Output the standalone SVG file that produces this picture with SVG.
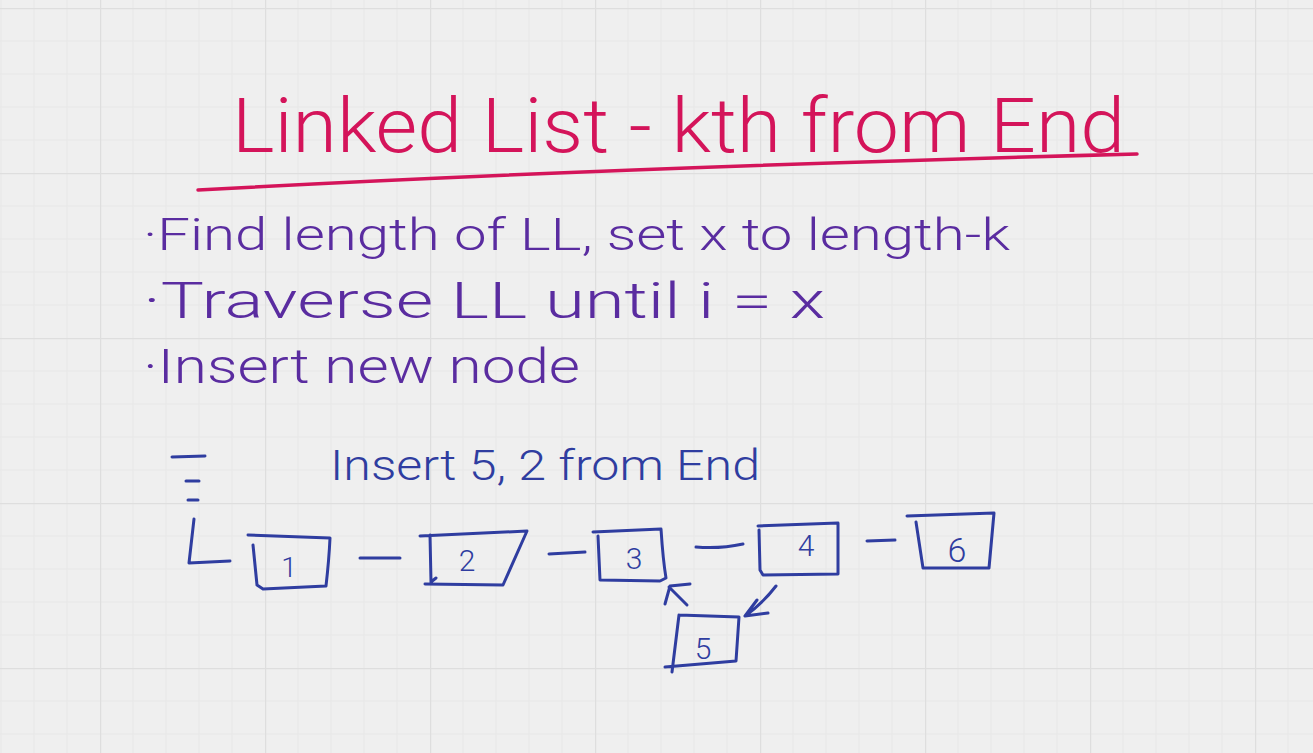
<svg xmlns="http://www.w3.org/2000/svg" width="1313" height="753" viewBox="0 0 1313 753">
<defs>
<pattern id="grid" x="100" y="8" width="165" height="165" patternUnits="userSpaceOnUse">
<path d="M33,0V165M66,0V165M99,0V165M132,0V165M0,33H165M0,66H165M0,99H165M0,132H165" stroke="#e7e7e7" stroke-width="1" fill="none"/>
<path d="M0.5,0V165M0,0.5H165" stroke="#dedede" stroke-width="1.5" fill="none"/>
</pattern>
<style>
.t{font-family:Roboto,"Liberation Sans",sans-serif;font-weight:300}
.pink{fill:#d4145a}
.pur{fill:#5a2ca0}
.blu{fill:#2f3da0}
.ink{fill:none;stroke:#2f3da0;stroke-width:3;stroke-linecap:round;stroke-linejoin:round}
</style>
</defs>
<rect width="1313" height="753" fill="#efefef"/>
<rect width="1313" height="753" fill="url(#grid)"/>

<g id="title">
<text class="t pink" x="232" y="152" font-size="76" textLength="893" lengthAdjust="spacingAndGlyphs">Linked List - kth from End</text>
<path d="M198,190 Q600,168 1137,154" fill="none" stroke="#d4145a" stroke-width="3.5" stroke-linecap="round"/>
</g>

<g id="notes">
<text class="t pur" x="143" y="250" font-size="44" textLength="867" lengthAdjust="spacingAndGlyphs">·Find length of LL, set x to length-k</text>
<text class="t pur" x="143" y="318" font-size="50" textLength="682" lengthAdjust="spacingAndGlyphs">·Traverse LL until i = x</text>
<text class="t pur" x="143" y="383" font-size="48" textLength="437" lengthAdjust="spacingAndGlyphs">·Insert new node</text>
</g>

<g id="caption">
<text class="t blu" x="330" y="480" font-size="42" textLength="430" lengthAdjust="spacingAndGlyphs">Insert 5, 2 from End</text>
</g>

<g id="head-marker">
<path class="ink" d="M172,457 L205,456 M186,481 L199,481 M188,500 L198,500 M194,519 L189,563 L230,561"/>
</g>

<g id="node1">
<path class="ink" d="M248,535 L330,538 Q329,560 326,586 L263,589 L257,585 L253,545"/>
<text class="t blu" x="289" y="577" font-size="28" text-anchor="middle">1</text>
</g>
<g id="node2">
<path class="ink" d="M420,536 L527,531 L503,585 L425,584 M430,535 L431,582 L436,578"/>
<text class="t blu" x="467" y="571" font-size="30" text-anchor="middle">2</text>
</g>
<g id="node3">
<path class="ink" d="M593,532 L661,529 Q663,560 666,578 L660,581 L600,580 L598,536"/>
<text class="t blu" x="634" y="569" font-size="30" text-anchor="middle">3</text>
</g>
<g id="node4">
<path class="ink" d="M758,526 L838,523 L838,574 L763,575 L760,570 L759,530"/>
<text class="t blu" x="806" y="556" font-size="30" text-anchor="middle">4</text>
</g>
<g id="node6">
<path class="ink" d="M907,516 L994,513 L989,568 L923,568 L916,522"/>
<text class="t blu" x="957" y="562" font-size="34" text-anchor="middle">6</text>
</g>
<g id="node5">
<path class="ink" d="M679,615 L739,617 L736,661 L665,667 M679,615 L672,672"/>
<text class="t blu" x="703" y="659" font-size="30" text-anchor="middle">5</text>
</g>

<g id="connectors">
<path class="ink" d="M360,558 L400,558"/>
<path class="ink" d="M549,554 L585,552"/>
<path class="ink" d="M696,547 Q720,549 743,544"/>
<path class="ink" d="M867,541 L895,540"/>
<path class="ink" d="M687,605 L669,587 M665,604 L670,586 L690,584"/>
<path class="ink" d="M776,586 Q763,603 745,616 M768,613 L745,616 L757,600"/>
</g>
</svg>
